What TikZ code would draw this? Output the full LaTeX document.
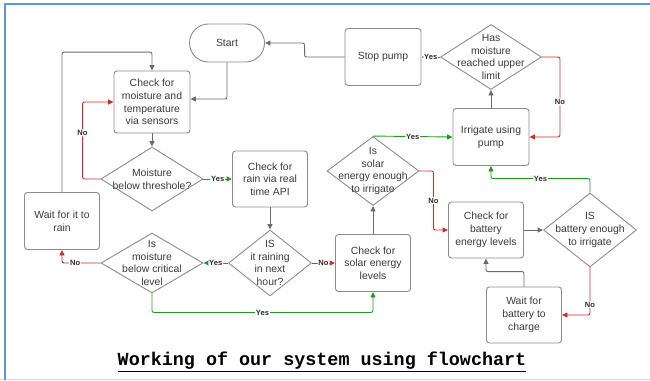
\documentclass[tikz,border=0pt]{standalone}
\usepackage{fontspec}
\setmainfont{Liberation Sans}
\newfontfamily\titlefont{Liberation Mono}
\usetikzlibrary{arrows.meta, shapes.geometric}
\usepackage{xcolor}
\definecolor{LineGrey}{HTML}{6B6B6B}
\definecolor{BoxGrey}{HTML}{8C8C8C}
\definecolor{TextGrey}{HTML}{3A3A3A}
\definecolor{NoRed}{HTML}{D42A2A}
\definecolor{YesGreen}{HTML}{1F9A1F}
\definecolor{FrameBlue}{HTML}{5B9BD5}
\definecolor{FrameLight}{HTML}{D3DEEB}
\tikzset{
  pbox/.style={draw=BoxGrey, line width=0.9pt, rounded corners=3pt, align=center,
    minimum width=75pt, minimum height=57pt, inner sep=2pt, text=TextGrey,
    font=\fontsize{10.4}{12.7}\selectfont},
  dbox/.style={draw=BoxGrey, line width=0.9pt, diamond, inner sep=0pt},
  dtext/.style={align=center, text=TextGrey, font=\fontsize{10.4}{12.7}\selectfont},
  ans/.style={font=\bfseries\fontsize{7.6}{8}\selectfont, text=TextGrey!80!black,
    fill=white, inner sep=0.8pt},
  flowg/.style={-{Triangle[length=5.5pt, width=5pt]}, line width=0.9pt, draw=LineGrey, rounded corners=2pt},
  flowy/.style={-{Triangle[length=5.5pt, width=5pt]}, line width=0.9pt, draw=YesGreen, rounded corners=2pt},
  flown/.style={-{Triangle[length=5.5pt, width=5pt]}, line width=0.9pt, draw=NoRed, rounded corners=2pt},
}

\begin{document}
\begin{tikzpicture}[x=1pt, y=-1pt]
    \useasboundingbox (0,0) rectangle (650,380);
    \draw[FrameLight, line width=1pt] (0,379.5) -- (650,379.5);
    \draw[FrameBlue, line width=1.6pt] (5,380) -- (5,4) -- (650,4);

    % process boxes
    \node[pbox, minimum height=38pt, rounded corners=19pt] (start) at (227,43) {Start};
    \node[pbox, minimum width=76pt, minimum height=62pt] (chk) at (152,102) {Check for\\moisture and\\temperature\\via sensors};
    \node[pbox, minimum height=56pt] (rainchk) at (270,179) {Check for\\rain via real\\time API};
    \node[pbox] (waitrain) at (62,221) {Wait for it to\\rain};
    \node[pbox] (solarchk) at (373,263) {Check for\\solar energy\\levels};
    \node[pbox, minimum width=76pt] (pump) at (491,137) {Irrigate using\\pump};
    \node[pbox, minimum width=76pt] (stop) at (383,57) {Stop pump};
    \node[pbox, minimum height=56pt] (battchk) at (486,230) {Check for\\battery\\energy levels};
    \node[pbox, minimum height=56pt] (waitbatt) at (524,315) {Wait for\\battery to\\charge};

    % decisions
    \node[dbox, minimum width=102pt, minimum height=64pt,
      label={[dtext]center:{Moisture\\below threshole?}}] (thr) at (152,179) {};
    \node[dbox, minimum width=102pt, minimum height=60pt,
      label={[dtext]center:{Is\\moisture\\below critical\\level}}] (crit) at (152,263) {};
    \node[dbox, minimum width=83pt, minimum height=66pt,
      label={[dtext]center:{IS\\it raining\\in next\\hour?}}] (rain) at (270,263) {};
    \node[dbox, minimum width=92pt, minimum height=69pt,
      label={[dtext]center:{Is\\solar\\energy enough\\to irrigate}}] (solar) at (373,171) {};
    \node[dbox, minimum width=93pt, minimum height=74pt,
      label={[dtext]center:{IS\\battery enough\\to irrigate}}] (batt) at (590,230) {};
    \node[dbox, minimum width=101pt, minimum height=65pt,
      label={[dtext]center:{Has\\moisture\\reached upper\\limit}}] (upper) at (491,57) {};

    \node[font=\titlefont\bfseries\fontsize{18.4}{20}\selectfont] (title) at (322,362)
      {\underline{Working of our system using flowchart}};

    % connectors
    \draw[flowg] (start.south) |- ([yshift=3pt]chk.east);
    \draw[flowg] (stop.west) -- ++(-40,0) |- (start.east);
    \draw[flowg] (chk.south) -- (thr.north);
    \draw[flown] (thr.west) -- ++(-18,0) |- node[ans, pos=0.3] {No} (chk.west);
    \draw[flowy] (thr.east) -- node[ans, pos=0.5] {Yes} (rainchk.west);
    \draw[flowg] (rainchk.south) -- (rain.north);
    \draw[flowy] (rain.west) -- node[ans, pos=0.5] {Yes} (crit.east);
    \draw[flown] (rain.east) -- node[ans, pos=0.5] {No} (solarchk.west);
    \draw[flown] (crit.west) -| node[ans, pos=0.33] {No} (waitrain.south);
    \draw[flowy] (crit.south) -- ++(0,19) -| node[ans, pos=0.25] {Yes} (solarchk.south);
    \draw[flowg] (waitrain.north) -- ++(0,-140) -| (chk.north);
    \draw[flowg] (solarchk.north) -- (solar.south);
    \draw[flowy] (solar.north) -- node[ans, pos=0.5] {Yes} (pump.west);
    \draw[flown] (solar.east) -- ++(14,0) |- node[ans, pos=0.25] {No} (battchk.west);
    \draw[flowg] (battchk.east) -- (batt.west);
    \draw[flowy] (batt.north) -- ++(0,-14) -| node[ans, pos=0.25] {Yes} (pump.south);
    \draw[flown] (batt.south) |- node[ans, pos=0.39] {No} (waitbatt.east);
    \draw[flowg] (waitbatt.north) -- ++(0,-15) -| (battchk.south);
    \draw[flowg] (pump.north) -- (upper.south);
    \draw[flown] (upper.east) -- ++(18,0) |- node[ans, pos=0.28] {No} (pump.east);
    \draw[flowy] (upper.west) -- node[ans, pos=0.5] {Yes} (stop.east);
\end{tikzpicture}
\end{document}
